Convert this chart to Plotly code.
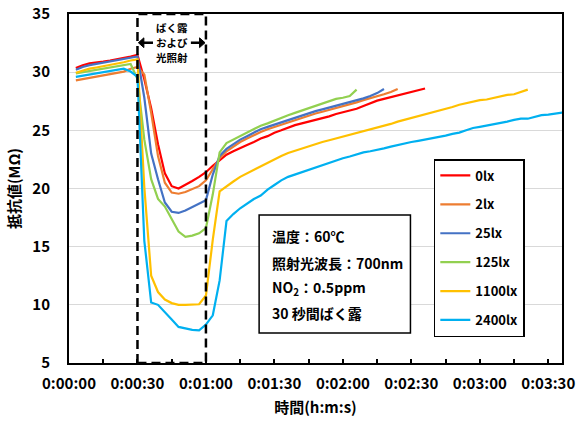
import plotly.graph_objects as go

# ---------------- data ----------------
t_sec = list(range(3, 222, 3))  # sample times (s)

series_names = ["0lx", "2lx", "25lx", "125lx", "1100lx", "2400lx"]
series_colors = ["#FF0000", "#ED7D31", "#4472C4", "#92D050", "#FFC000", "#00B0F0"]

r_0lx = [30.35, 30.6, 30.75, 30.8, 30.9, 31.0, 31.1, 31.25, 31.35, 31.5,
         29.4, 26.9, 23.8, 21.3, 20.2, 20.0, 20.3, 20.65, 21.0, 21.4,
         21.95, 22.4, 22.9, 23.2, 23.5, 23.75, 24.0, 24.3, 24.5, 24.8,
         25.0, 25.25, 25.45, 25.6, 25.75, 25.85, 26.0, 26.2, 26.4, 26.55,
         26.7, 26.85, 27.1, 27.35, 27.55, 27.7, 27.85, 28.05, 28.2, 28.3,
         28.45, 28.6]
r_2lx = [29.3, 29.4, 29.5, 29.6, 29.75, 29.85, 29.95, 30.05, 30.3, 30.45,
         29.8, 26.5, 22.8, 20.5, 19.65, 19.55, 19.7, 19.95, 20.2, 20.7,
         21.6, 22.6, 23.2, 23.6, 24.0, 24.3, 24.6, 24.85, 25.1, 25.3,
         25.5, 25.7, 25.9, 26.1, 26.3, 26.45, 26.6, 26.75, 26.9, 27.05,
         27.2, 27.4, 27.6, 27.75, 27.9, 28.1, 28.3, 28.55]
r_25lx = [30.2, 30.45, 30.6, 30.7, 30.8, 30.9, 31.0, 31.1, 31.2, 31.35,
          27.8, 23.0, 20.8, 18.8, 18.0, 17.9, 18.1, 18.4, 18.7, 19.0,
          21.2, 22.8, 23.4, 23.8, 24.2, 24.5, 24.8, 25.1, 25.3, 25.5,
          25.7, 25.9, 26.1, 26.3, 26.5, 26.65, 26.8, 26.95, 27.1, 27.25,
          27.4, 27.55, 27.75, 27.95, 28.2, 28.55]
r_125lx = [29.9, 30.0, 30.1, 30.15, 30.25, 30.35, 30.45, 30.55, 30.7, 29.4,
           24.2, 20.8, 19.1, 18.45, 17.4, 16.3, 15.85, 15.95, 16.15, 16.6,
           19.5, 23.1, 23.9, 24.2, 24.5, 24.8, 25.1, 25.4, 25.6, 25.85,
           26.1, 26.3, 26.5, 26.7, 26.9, 27.1, 27.3, 27.5, 27.7, 27.8,
           27.95, 28.5]
r_1100lx = [29.95, 30.15, 30.3, 30.4, 30.5, 30.6, 30.7, 30.85, 31.0, 31.1,
            20.1, 12.5, 11.1, 10.45, 10.15, 10.0, 10.0, 10.05, 10.05, 10.8,
            15.6, 19.75, 20.2, 20.6, 21.0, 21.3, 21.6, 21.95, 22.2, 22.55,
            22.8, 23.05, 23.25, 23.45, 23.65, 23.85, 24.0, 24.15, 24.3, 24.45,
            24.6, 24.75, 24.9, 25.05, 25.2, 25.4, 25.55, 25.75, 25.9, 26.05,
            26.2, 26.35, 26.55, 26.7, 26.85, 27.0, 27.2, 27.35, 27.5, 27.6,
            27.65, 27.8, 27.95, 28.05, 28.1, 28.3, 28.5]
r_2400lx = [29.6, 29.7, 29.8, 29.9, 29.95, 30.05, 30.2, 30.3, 30.05, 29.6,
            15.5, 10.2, 10.0, 9.4, 8.75, 8.1, 7.95, 7.85, 7.8, 8.3,
            9.1, 12.1, 17.2, 17.8, 18.3, 18.7, 19.1, 19.4, 19.9, 20.3,
            20.7, 21.0, 21.2, 21.4, 21.65, 21.85, 22.05, 22.25, 22.4, 22.6,
            22.75, 22.95, 23.1, 23.2, 23.3, 23.45, 23.6, 23.75, 23.9, 24.0,
            24.1, 24.2, 24.3, 24.4, 24.55, 24.7, 24.8, 25.0, 25.2, 25.3,
            25.4, 25.5, 25.6, 25.75, 25.9, 26.0, 26.0, 26.15, 26.3, 26.35,
            26.45, 26.55, 26.6]
series_values = [r_0lx, r_2lx, r_25lx, r_125lx, r_1100lx, r_2400lx]

x_tick_vals = [0, 15, 30, 45, 60, 75, 90, 105, 120, 135, 150, 165, 180, 195, 210]
x_tick_text = ["0:00:00", "", "0:00:30", "", "0:01:00", "", "0:01:30", "",
               "0:02:00", "", "0:02:30", "", "0:03:00", "", "0:03:30"]
y_tick_vals = [5, 10, 15, 20, 25, 30, 35]

exposure_start, exposure_end = 30, 60
exposure_label = ["ばく露", "および", "光照射"]
info_lines = ["温度：60℃", "照射光波長：700nm", "NO<sub>2</sub>：0.5ppm", "30 秒間ばく露"]

FONT = "Noto Sans CJK JP"

# ---------------- figure ----------------
fig = go.Figure()
for i, (name, color, vals) in enumerate(zip(series_names, series_colors, series_values)):
    fig.add_trace(go.Scatter(
        x=t_sec[:len(vals)], y=vals, mode="lines", name=name,
        legendgroup=name,
        line=dict(color=color, width=2.2),
    ))

# exposure dashed box
fig.add_shape(type="rect", xref="x", yref="y",
              x0=exposure_start, x1=exposure_end, y0=5, y1=35,
              line=dict(color="black", width=2.5, dash="9px,5px"), layer="above")

for txt, yv in zip(exposure_label, [33.84, 32.53, 31.22]):
    fig.add_annotation(x=(exposure_start + exposure_end) / 2, y=yv, xref="x", yref="y",
                       text=txt, showarrow=False, yanchor="middle",
                       font=dict(family=FONT, size=10.5, color="black", weight="bold"))

# double arrow pieces (shapes)
ya = 32.53
fig.add_shape(type="line", xref="x", yref="y", x0=32.0, x1=36.8, y0=ya, y1=ya,
              line=dict(color="black", width=2.5))
fig.add_shape(type="path", xref="x", yref="y",
              path=f"M {exposure_start + 0.4},{ya} L 32.8,{ya + 0.42} L 32.8,{ya - 0.42} Z",
              fillcolor="black", line=dict(color="black", width=1))
fig.add_shape(type="line", xref="x", yref="y", x0=53.4, x1=58.0, y0=ya, y1=ya,
              line=dict(color="black", width=2.5))
fig.add_shape(type="path", xref="x", yref="y",
              path=f"M {exposure_end - 0.4},{ya} L 57.2,{ya + 0.42} L 57.2,{ya - 0.42} Z",
              fillcolor="black", line=dict(color="black", width=1))

# info box
fig.add_shape(type="rect", xref="x", yref="y", x0=83.3, x1=149.6, y0=7.57, y1=17.72,
              line=dict(color="black", width=1.5), fillcolor="white", layer="above")
for txt, yv in zip(info_lines, [15.91, 13.62, 11.44, 9.29]):
    fig.add_annotation(x=88.0, y=yv, xref="x", yref="y", text=txt, showarrow=False,
                       xanchor="left",
                       font=dict(family=FONT, size=14, color="black", weight="bold"))

fig.update_layout(
    width=579, height=425, autosize=False,
    margin=dict(l=69, r=17, t=14, b=62, autoexpand=False),
    paper_bgcolor="white", plot_bgcolor="white",
    font=dict(family=FONT, color="black"),
    showlegend=True,
    legend=dict(x=0.740, y=0.5845, xanchor="left", yanchor="top",
                bordercolor="black", borderwidth=1.5, bgcolor="white",
                font=dict(family=FONT, size=13, color="black", weight="bold"),
                tracegroupgap=9, traceorder="grouped", itemwidth=30),
    xaxis=dict(range=[0, 216], tickmode="array", tickvals=x_tick_vals, ticktext=x_tick_text,
               ticks="inside", ticklen=4, tickwidth=1.5, tickcolor="black",
               showline=True, linecolor="black", linewidth=2, mirror=True,
               showgrid=False, zeroline=False, automargin=False,
               tickfont=dict(family=FONT, size=15, color="black", weight="bold"),
               ticklabelstandoff=6,
               title=dict(text="時間(h:m:s)", standoff=10,
                          font=dict(family=FONT, size=15, color="black", weight="bold"))),
    yaxis=dict(range=[5, 35], tickmode="array", tickvals=y_tick_vals,
               ticks="", showline=True, linecolor="black", linewidth=2, mirror=True,
               showgrid=True, gridcolor="#D9D9D9", gridwidth=1, zeroline=False,
               automargin=False,
               tickfont=dict(family=FONT, size=15, color="black", weight="bold"),
               ticklabelstandoff=14,
               title=dict(text="抵抗値(MΩ)", standoff=8,
                          font=dict(family=FONT, size=15, color="black", weight="bold"))),
)

fig.write_html("out.html")
